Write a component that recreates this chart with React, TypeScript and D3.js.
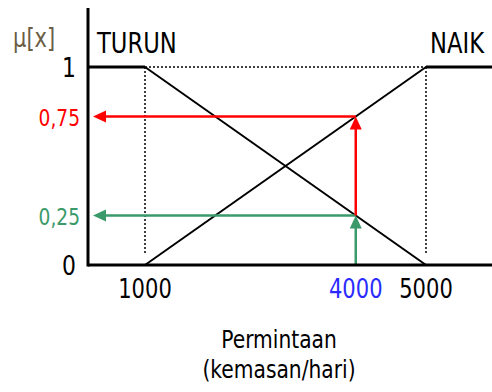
import React from 'react';
import * as d3 from 'd3';

// membership values and tick labels
const xTicks = [1000, 4000, 5000];
const yTicks = [0, 1];
const inputX = 4000;
const muNaik = 0.75;
const muTurun = 0.25;
const turun: [number, number][] = [[1000, 1], [5000, 0]];
const naik: [number, number][] = [[1000, 0], [5000, 1]];
const FONT = '"DejaVu Sans", Verdana, sans-serif';
const SX = 0.81;

const W = 492;
const H = 392;

const App: React.FC = () => {
  const x = d3.scaleLinear().domain([1000, 5000]).range([145, 426]);
  const y = d3.scaleLinear().domain([0, 1]).range([265, 67]);
  const axisX = 88;
  const right = W;
  const line = d3.line<[number, number]>().x(d => x(d[0])).y(d => y(d[1]));

  const label = (
    t: string, tx: number, ty: number, size: number, fill: string,
    anchor: 'start' | 'middle' | 'end' = 'start',
  ) => (
    <text
      key={t + tx + ty}
      transform={`translate(${tx},${ty}) scale(${SX},1)`}
      fontFamily={FONT}
      fontSize={size}
      fill={fill}
      textAnchor={anchor}
    >
      {t}
    </text>
  );

  const red = '#ff0000';
  const green = '#3a9a6a';
  const blue = '#2a2aff';
  const ax = x(inputX);

  // arrowheads
  const upHead = (cx: number, tipY: number) =>
    `M${cx},${tipY} L${cx - 6},${tipY + 13} L${cx + 6},${tipY + 13} Z`;
  const leftHead = (tipX: number, cy: number) =>
    `M${tipX},${cy} L${tipX + 13},${cy - 6} L${tipX + 13},${cy + 6} Z`;

  return (
    <svg width={W} height={H} style={{ position: 'absolute', left: 0, top: 0, background: '#fff' }}>
      {/* dotted guides */}
      <g stroke="#000" strokeWidth={1.5} strokeDasharray="2,2" fill="none">
        <line x1={x(1000)} x2={x(5000)} y1={y(1)} y2={y(1)} />
        <line x1={x(1000)} x2={x(1000)} y1={y(1)} y2={y(0) - 12} />
        <line x1={x(5000)} x2={x(5000)} y1={y(1)} y2={y(0) - 12} />
      </g>

      {/* membership functions */}
      <g stroke="#000" fill="none">
        <path d={line(turun) ?? ''} strokeWidth={2} />
        <path d={line(naik) ?? ''} strokeWidth={2} />
        <line x1={axisX} x2={x(1000)} y1={y(1)} y2={y(1)} strokeWidth={3} />
        <line x1={x(5000)} x2={right} y1={y(1)} y2={y(1)} strokeWidth={3} />
      </g>

      {/* green: mu TURUN */}
      <g stroke={green} strokeWidth={2.5} fill="none">
        <line x1={ax} x2={ax} y1={y(0)} y2={y(muTurun) + 10} />
        <line x1={ax} x2={axisX + 14} y1={y(muTurun)} y2={y(muTurun)} />
      </g>
      <path d={upHead(ax, y(muTurun))} fill={green} />
      <path d={leftHead(axisX + 5, y(muTurun))} fill={green} />

      {/* red: mu NAIK */}
      <g stroke={red} strokeWidth={2.5} fill="none">
        <line x1={ax} x2={ax} y1={y(muTurun)} y2={y(muNaik) + 10} />
        <line x1={ax} x2={axisX + 14} y1={y(muNaik)} y2={y(muNaik)} />
      </g>
      <path d={upHead(ax, y(muNaik))} fill={red} />
      <path d={leftHead(axisX + 5, y(muNaik))} fill={red} />

      {/* axes */}
      <line x1={axisX} x2={axisX} y1={8} y2={y(0) + 1.5} stroke="#000" strokeWidth={3} />
      <line x1={axisX} x2={right} y1={y(0)} y2={y(0)} stroke="#000" strokeWidth={3} />

      {/* y tick labels */}
      {yTicks.map(v => label(String(v), 76, y(v) + 10, 27, '#000', 'end'))}
      {label('0,75', 80, y(muNaik) + 9, 23, red, 'end')}
      {label('0,25', 80, y(muTurun) + 9, 23, green, 'end')}
      {label('μ[x]', 13, 47, 26, '#6b5e45')}

      {/* x tick labels */}
      {xTicks.map(v =>
        label(String(v), x(v), 298, 26, v === inputX ? blue : '#000', 'middle'),
      )}

      {/* set labels */}
      {label('TURUN', 97, 53, 28, '#000')}
      {label('NAIK', 430, 53, 28, '#000')}

      {/* x title */}
      {label('Permintaan', 279, 348, 25, '#000', 'middle')}
      {label('(kemasan/hari)', 279, 378, 25, '#000', 'middle')}
    </svg>
  );
};

export default App;
